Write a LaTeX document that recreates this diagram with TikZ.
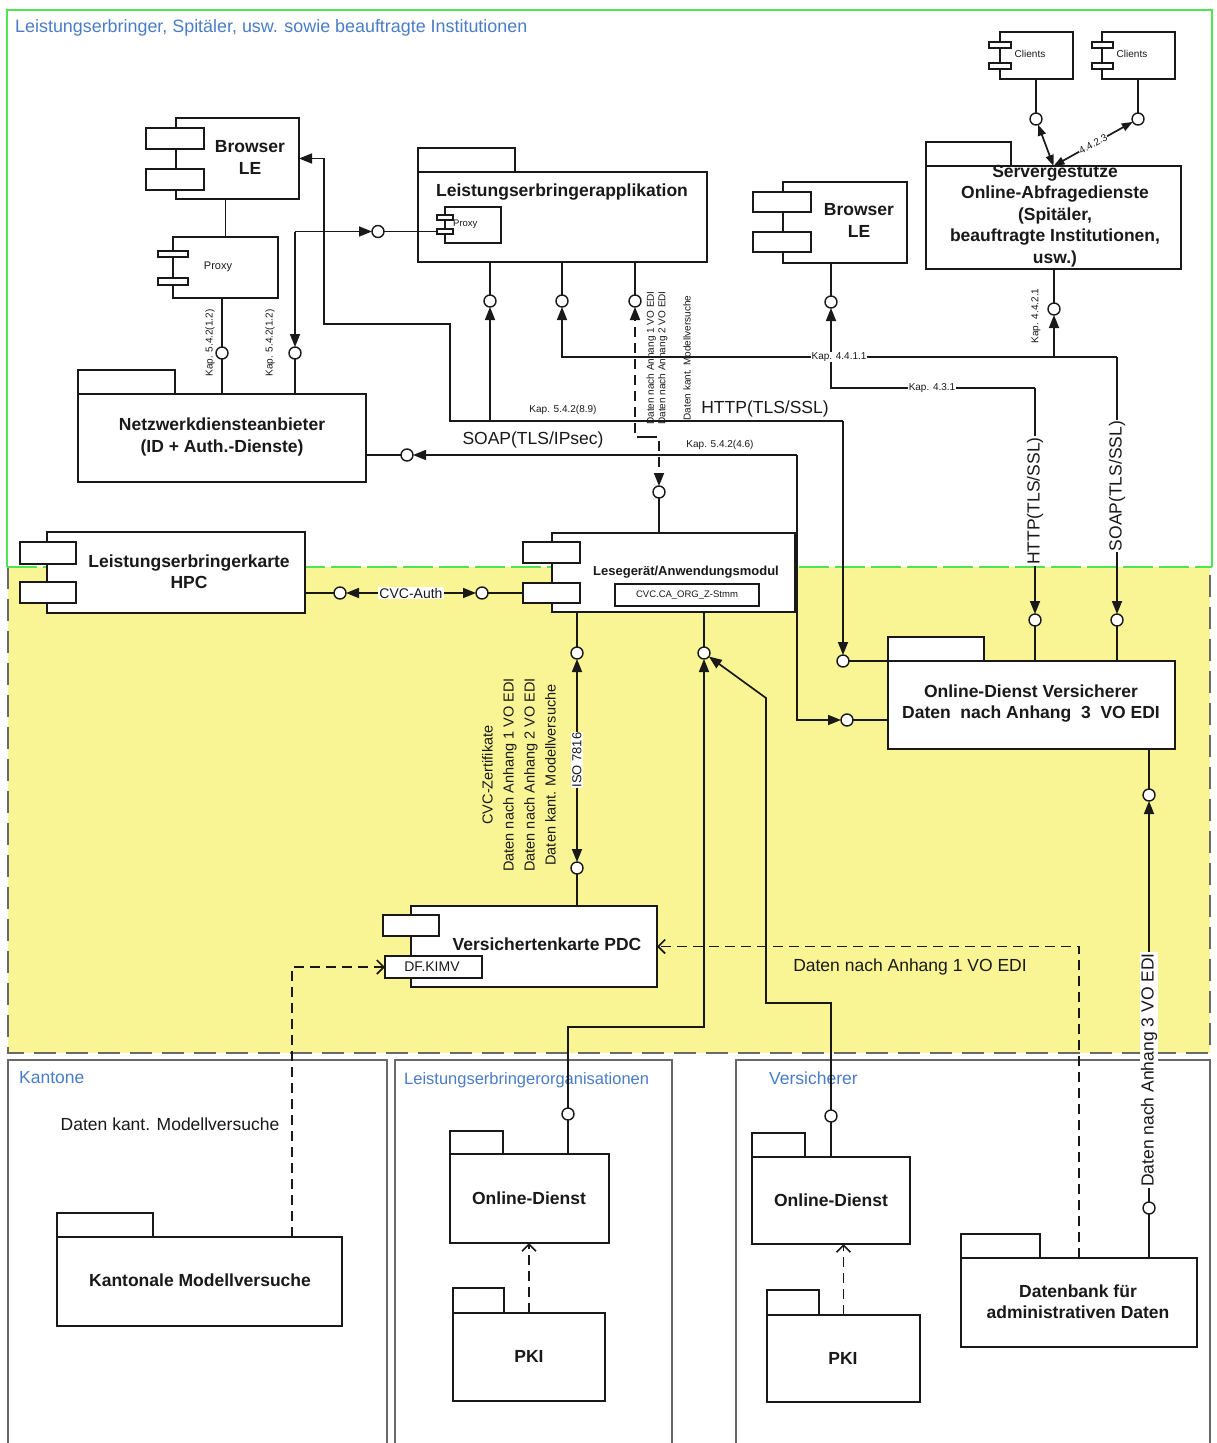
\documentclass[tikz,border=0pt]{standalone}
\usepackage{fontspec}
\setmainfont{Liberation Sans}
\usetikzlibrary{arrows.meta,fit}
\definecolor{lgreen}{RGB}{80,228,80}
\definecolor{lyellow}{RGB}{250,245,148}
\definecolor{ttblue}{RGB}{74,125,200}
\definecolor{ink}{RGB}{25,25,25}
\definecolor{rgray}{RGB}{105,105,105}
\newcommand{\mkbox}[6][]{\coordinate (#2-a) at (#3,#4);\coordinate (#2-b) at (#5,#6);\node[fit=(#2-a)(#2-b),inner sep=0pt,outer sep=0pt,#1] (#2) {};}
\begin{document}
\begin{tikzpicture}[x=1pt,y=-1pt,
  ln/.style={draw=ink, line width=1.7pt},
  bx/.style={draw=ink, fill=white, line width=1.7pt},
  lol/.style={circle, draw=ink, fill=white, line width=1.4pt, inner sep=0pt, minimum size=12pt, outer sep=0pt},
  arr/.style={ln, -{Triangle[length=13pt,width=10pt]}},
  darr/.style={ln, {Triangle[length=11pt,width=8pt]}-{Triangle[length=11pt,width=8pt]}},
  dsh/.style={ln, dash pattern=on 10pt off 6pt},
  opn/.style={-{Straight Barb[length=7pt,width=14pt]}},
  bt/.style={font=\fontsize{17.5}{21.5}\selectfont\bfseries, align=center, inner sep=0pt, text=ink},
  rg/.style={font=\fontsize{17.5}{21}\selectfont, inner sep=1pt, text=ink},
  sm/.style={font=\fontsize{10}{12}\selectfont, inner sep=1pt, text=ink},
  reg/.style={font=\fontsize{17.5}{20}\selectfont, text=ttblue, inner sep=0pt, anchor=west}
]
\useasboundingbox (0,0) rectangle (1217,1443);
\fill[white] (0,0) rectangle (1217,1443);

% ---------- regions ----------
\fill[lyellow] (8,567) rectangle (1210,1053);
\draw[rgray, line width=1.8pt, dash pattern=on 22pt off 10pt] (8,567) -- (8,1053) -- (1210,1053) -- (1210,567);
\draw[lgreen, line width=2.2pt] (7,567) -- (7,10) -- (1212,10) -- (1212,567);
\draw[lgreen, line width=2.2pt, dash pattern=on 30pt off 6pt] (7,567) -- (1212,567);
\node[reg, font=\fontsize{17.9}{20}\selectfont] (ttop) at (15,28) {Leistungserbringer, Spitäler, usw. sowie beauftragte Institutionen};

\mkbox[draw=rgray, line width=2.2pt]{kan}{8}{1060}{387}{1460}
\mkbox[draw=rgray, line width=2.2pt]{leo}{395}{1060}{672}{1460}
\mkbox[draw=rgray, line width=2.2pt]{ver}{736}{1060}{1210}{1460}
\node[reg] (tkan) at (19,1078) {Kantone};
\node[reg, font=\fontsize{16.5}{20}\selectfont] (tleo) at (404,1080) {Leistungserbringerorganisationen};
\node[reg] (tver) at (769,1078) {Versicherer};

% ---------- boxes ----------
% Browser LE left
\mkbox[bx]{brL}{176}{118}{299}{199}
\mkbox[bx]{brLa}{146}{128}{204}{149}
\mkbox[bx]{brLb}{146}{169}{204}{190}
\node[bt] (tbrL) at (250,157.5) {Browser\\LE};
% Proxy left
\mkbox[bx]{prx}{173}{237}{278}{298}
\mkbox[bx]{prxa}{158}{251}{188}{257}
\mkbox[bx]{prxb}{158}{278}{188}{285}
\node[font=\fontsize{11}{13}\selectfont, text=ink] (tprx) at (218,267) {Proxy};
% Leistungserbringerapplikation
\mkbox[bx]{leaT}{418}{148}{515}{172}
\mkbox[bx]{lea}{418}{172}{707}{262}
\node[bt] (tlea) at (562,192) {Leistungserbringerapplikation};
\mkbox[bx]{lpx}{445}{207}{501}{243}
\mkbox[bx]{lpxa}{437}{215}{453}{220}
\mkbox[bx]{lpxb}{437}{229}{453}{234}
\node[font=\fontsize{9.5}{11}\selectfont, anchor=west, inner sep=0pt, text=ink] (tlpx) at (453,224) {Proxy};
% Browser LE right
\mkbox[bx]{brR}{783}{182}{907}{263}
\mkbox[bx]{brRa}{753}{192}{811}{212}
\mkbox[bx]{brRb}{753}{232}{811}{252}
\node[bt] (tbrR) at (859,220.5) {Browser\\LE};
% Clients
\mkbox[bx]{cl1}{1000}{32}{1073}{79}
\mkbox[bx]{cl1a}{989}{42}{1011}{48}
\mkbox[bx]{cl1b}{989}{63}{1011}{69}
\node[sm] (tcl1) at (1030,54) {Clients};
\mkbox[bx]{cl2}{1102}{32}{1175}{79}
\mkbox[bx]{cl2a}{1092}{42}{1113}{48}
\mkbox[bx]{cl2b}{1092}{63}{1113}{69}
\node[sm] (tcl2) at (1132,54) {Clients};
% Servergestuetzte
\mkbox[bx]{svT}{926}{142}{1011}{166}
\mkbox[bx]{sv}{926}{166}{1181}{269}
\node[bt] (tsv) at (1055,216) {Servergestütze\\Online-Abfragedienste\\(Spitäler,\\beauftragte Institutionen,\\usw.)};
% Netzwerkdiensteanbieter
\mkbox[bx]{nwT}{78}{370}{175}{394}
\mkbox[bx]{nw}{78}{394}{366}{482}
\node[bt] (tnw) at (222,437) {Netzwerkdiensteanbieter\\(ID + Auth.-Dienste)};
% HPC
\mkbox[bx]{hpc}{47}{532}{305}{613}
\mkbox[bx]{hpca}{20}{542}{76}{564}
\mkbox[bx]{hpcb}{20}{582}{76}{603}
\node[bt] (thpc) at (189,571.5) {Leistungserbringerkarte\\HPC};
% Lesegeraet
\mkbox[bx]{lg}{552}{533}{795}{612}
\mkbox[bx]{lga}{523}{542}{580}{563}
\mkbox[bx]{lgb}{523}{583}{580}{603}
\node[font=\fontsize{13}{15}\selectfont\bfseries, text=ink, inner sep=0pt] (tlg) at (686,572) {Lesegerät/Anwendungsmodul};
\mkbox[bx]{cvc}{615}{584}{759}{606}
\node[font=\fontsize{9.5}{11}\selectfont, text=ink, inner sep=0pt] (tcvc) at (687,595) {CVC.CA\_ORG\_Z-Stmm};
% Online-Dienst Versicherer
\mkbox[bx]{odvT}{888}{637}{984}{661}
\mkbox[bx]{odv}{888}{661}{1175}{749}
\node[bt] (todv) at (1031,703.5) {Online-Dienst Versicherer\\Daten\ \ nach Anhang\ \ 3\ \ VO EDI};
% Versichertenkarte PDC
\mkbox[bx]{pdc}{411}{906}{657}{987}
\mkbox[bx]{pdca}{383}{915}{439}{936}
\mkbox[bx]{dfk}{385}{956}{482}{978}
\node[bt] (tpdc) at (547,944) {Versichertenkarte PDC};
\node[font=\fontsize{14}{16}\selectfont, text=ink, inner sep=0pt] (tdfk) at (432,967) {DF.KIMV};
% Kantonale Modellversuche
\mkbox[bx]{kmT}{57}{1213}{153}{1237}
\mkbox[bx]{km}{57}{1237}{342}{1326}
\node[bt] (tkm) at (200,1280) {Kantonale Modellversuche};
\node[rg] (tdkm) at (170,1124) {Daten kant. Modellversuche};
% LE-Organisationen
\mkbox[bx]{leodT}{450}{1131}{503}{1154}
\mkbox[bx]{leod}{450}{1154}{609}{1243}
\node[bt] (tleod) at (529,1198) {Online-Dienst};
\mkbox[bx]{pk1T}{453}{1288}{504}{1313}
\mkbox[bx]{pk1}{453}{1313}{605}{1401}
\node[bt] (tpk1) at (529,1356) {PKI};
% Versicherer
\mkbox[bx]{vodT}{752}{1133}{805}{1157}
\mkbox[bx]{vod}{752}{1157}{910}{1244}
\node[bt] (tvod) at (831,1200) {Online-Dienst};
\mkbox[bx]{pk2T}{767}{1290}{819}{1315}
\mkbox[bx]{pk2}{767}{1315}{920}{1402}
\node[bt] (tpk2) at (843,1358) {PKI};
% Datenbank
\mkbox[bx]{dbT}{961}{1234}{1040}{1258}
\mkbox[bx]{db}{961}{1258}{1197}{1347}
\node[bt] (tdb) at (1078,1301.5) {Datenbank für\\administrativen Daten};

% ---------- lollipops ----------
\node[lol] (L1) at (222,353) {};
\node[lol] (L2) at (295,353) {};
\node[lol] (L3) at (378,231.5) {};
\node[lol] (L4) at (490,301) {};
\node[lol] (L5) at (562,301) {};
\node[lol] (L6) at (635,301) {};
\node[lol] (L7) at (831,302) {};
\node[lol] (L8) at (1054,309) {};
\node[lol] (L9) at (1036,119) {};
\node[lol] (L10) at (1138,119) {};
\node[lol] (L11) at (407,455) {};
\node[lol] (L12) at (659,492) {};
\node[lol] (L13) at (340,593) {};
\node[lol] (L14) at (482,593) {};
\node[lol] (L15) at (577,653) {};
\node[lol] (L16) at (577,868) {};
\node[lol] (L17) at (704,653) {};
\node[lol] (L18) at (843,661) {};
\node[lol] (L19) at (847,720) {};
\node[lol] (L20) at (1035,620) {};
\node[lol] (L21) at (1117,620) {};
\node[lol] (L22) at (1149,795) {};
\node[lol] (L23) at (1149,1208) {};
\node[lol] (L24) at (568,1114) {};
\node[lol] (L25) at (831,1116) {};

% helper coordinates
\coordinate (j1) at (295,231.5);
\coordinate (j2) at (843,421);
\coordinate (j3) at (1117,357);
\coordinate (j4) at (1054,357);
\coordinate (j5) at (1035,388);
\coordinate (j6) at (797,455);
\coordinate (j7) at (647,437);
\coordinate (j8) at (577,760);
\coordinate (j9) at (411,593);
\coordinate (kx) at (292,0);
\coordinate (dbx) at (1079,0);

% ---------- connectors ----------
\draw[ln] (prx.north) -- (prx.north |- brL.south);
\draw[ln] (L1 |- prx.south) -- (L1) -- (L1 |- nw.north);
\draw[arr] (j1) -- (L3);
\draw[arr] (j1) -- (L2);
\draw[ln] (L3) -- (lpxb.west);
\draw[ln] (L2) -- (L2 |- nw.north);

\draw[arr] (490,421) -- (L4);
\draw[ln] (L4) -- (L4 |- lea.south);
\draw[arr] (j2) -- (450,421) -- (450,324) -- (324,324) -- (324,158.5) -- (brL.east);
\draw[arr] (j2) -- (L18);
\draw[ln] (L18) -- (odv.north west);

\draw[arr] (j3) -- (562,357) -- (L5);
\draw[ln] (L5) -- (L5 |- lea.south);
\draw[arr] (j4) -- (L8);
\draw[ln] (L8) -- (L8 |- sv.south);
\draw[arr] (j3) -- (L21);
\draw[ln] (L21) -- (L21 |- odv.north);

\draw[arr] (j5) -- (831,388) -- (L7);
\draw[ln] (L7) -- (L7 |- brR.south);
\draw[arr] (j5) -- (L20);
\draw[ln] (L20) -- (L20 |- odv.north);

\draw[arr] (j6) -- (L11);
\draw[ln] (L11) -- (L11 -| nw.east);
\draw[arr] (j6) -- (797,720) -- (L19);
\draw[ln] (L19) -- (L19 -| odv.west);

\draw[dsh, -{Triangle[length=13pt,width=10pt]}] (j7) -- (635,437) -- (L6);
\draw[ln] (L6) -- (L6 |- lea.south);
\draw[dsh, -{Triangle[length=13pt,width=10pt]}] (j7) -- (659,437) -- (L12);
\draw[ln] (L12) -- (L12 |- lg.north);

\draw[arr] (j9) -- (L13);
\draw[arr] (j9) -- (L14);
\draw[ln] (L13) -- (L13 -| hpc.east);
\draw[ln] (L14) -- (lgb.west);

\draw[arr] (j8) -- (L15);
\draw[arr] (j8) -- (L16);
\draw[ln] (L15) -- (L15 |- lg.south);
\draw[ln] (L16) -- (L16 |- pdc.north);

\draw[ln] (L24) -- (L24 |- leod.north);
\draw[arr] (L24) -- (568,1027) -- (704,1027) -- (L17);
\draw[ln] (L17) -- (L17 |- lg.south);
\draw[ln] (L25) -- (L25 |- vod.north);
\draw[arr] (L25) -- (831,1003) -- (766,1003) -- (766,698) -- (L17);

\draw[arr] (L23) -- (L22);
\draw[ln] (L22) -- (L22 |- odv.south);
\draw[ln] (L23) -- (L23 |- db.north);

\draw[dsh, opn] (kx |- km.north) -- (kx |- dfk.west) -- (dfk.west);
\draw[dsh, opn] (dbx |- db.north) -- (dbx |- pdc.east) -- (pdc.east);
\draw[dsh, opn] (pk1.north) -- (pk1.north |- leod.south);
\draw[dsh, opn] (pk2.north) -- (pk2.north |- vod.south);

\draw[ln] (L9 |- cl1.south) -- (L9);
\draw[ln] (L10 |- cl2.south) -- (L10);
\draw[darr] (L9) -- (sv.north);
\draw[darr] (sv.north) -- (L10) node[midway, sloped, sm, fill=white, inner sep=0.5pt] (k4423) {4.4.2.3};

% ---------- labels ----------
\node[sm, rotate=90] (k12a) at (210,343) {Kap. 5.4.2(1.2)};
\node[sm, rotate=90] (k12b) at (270,343) {Kap. 5.4.2(1.2)};
\node[sm] (k89) at (563,410) {Kap. 5.4.2(8.9)};
\node[sm] (k46) at (720,445) {Kap. 5.4.2(4.6)};
\node[rg] (soapip) at (533,440) {SOAP(TLS/IPsec)};
\node[rg] (httph) at (765,409) {HTTP(TLS/SSL)};
\node[sm, fill=white] (k4411) at (839,357) {Kap. 4.4.1.1};
\node[sm, fill=white] (k431) at (932,388) {Kap. 4.3.1};
\node[sm, rotate=90] (k4421) at (1036,316) {Kap. 4.4.2.1};
\node[rg, fill=white, rotate=90] (httpv) at (1035,501) {HTTP(TLS/SSL)};
\node[rg, fill=white, rotate=90] (soapv) at (1117,486) {SOAP(TLS/SSL)};
\node[font=\fontsize{14}{16}\selectfont, text=ink, fill=white, inner sep=1pt] (cvca) at (j9) {CVC-Auth};
\node[font=\fontsize{13}{15}\selectfont, text=ink, fill=white, inner sep=1pt, rotate=90] (iso) at (j8) {ISO 7816};
\node[font=\fontsize{14.5}{21}\selectfont, text=ink, align=center, rotate=90] (tcvcz) at (519,775) {CVC-Zertifikate\\Daten nach Anhang 1 VO EDI\\Daten nach Anhang 2 VO EDI\\Daten kant. Modellversuche};
\node[font=\fontsize{10}{11.5}\selectfont, text=ink, align=left, rotate=90, inner sep=0pt] (tdat12) at (657,358) {Daten nach Anhang 1 VO EDI\\Daten nach Anhang 2 VO EDI};
\node[font=\fontsize{10}{11.5}\selectfont, text=ink, align=left, rotate=90, inner sep=0pt] (tdatk) at (687,358) {Daten kant. Modellversuche};
\node[rg] (tda1) at (910,967) {Daten nach Anhang 1 VO EDI};
\node[rg, fill=white, rotate=90] (tda3) at (1149,1070) {Daten nach Anhang 3 VO EDI};
\end{tikzpicture}
\end{document}
